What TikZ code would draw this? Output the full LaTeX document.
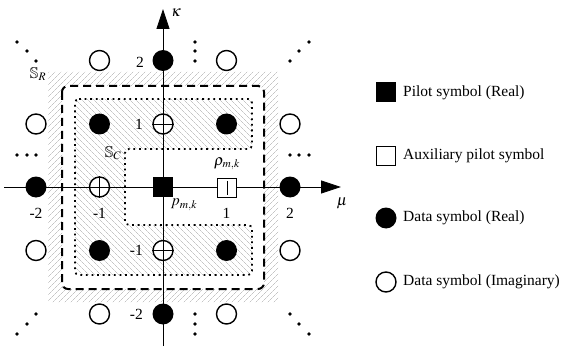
\documentclass[tikz,border=0pt]{standalone}
\usepackage{mathptmx}
\usepackage{amssymb}
\usepackage{fontspec}
\setmainfont{Liberation Serif}
\usetikzlibrary{arrows.meta,patterns.meta}
\tikzset{
  fdot/.style={circle,fill=black,minimum size=21pt,inner sep=0pt},
  odot/.style={circle,draw=black,fill=white,line width=1.4pt,minimum size=20pt,inner sep=0pt},
  fsq/.style={rectangle,fill=black,minimum size=20pt,inner sep=0pt},
  osq/.style={rectangle,draw=black,fill=white,line width=1.4pt,minimum size=19pt,inner sep=0pt},
  sdot/.style={circle,fill=black,minimum size=3.6pt,inner sep=0pt},
  axisline/.style={line width=0.8pt,-{Triangle[length=20pt,width=13pt]}},
  lab/.style={inner sep=0pt},
  legtext/.style={anchor=west,inner sep=0pt},
  hatchNE/.style={pattern={Lines[angle=45,distance=4pt,line width=0.45pt]},pattern color=gray!70},
  hatchNW/.style={pattern={Lines[angle=-45,distance=4pt,line width=0.45pt]},pattern color=gray!70},
}
\begin{document}
\begin{tikzpicture}[x=1pt,y=-1pt,font=\fontsize{15.5}{18}\selectfont]
\useasboundingbox (0,0) rectangle (565,350);
% hatched frame (S_R border)
\fill[hatchNE,even odd rule] (48,72) rectangle (278,302) [rounded corners=6pt] (62,86) rectangle (264,289);
% hatched C region (S_C)
\fill[hatchNW,rounded corners=4pt] (75,99) -- (252,99) -- (252,149) -- (125,149) -- (125,225) -- (252,225) -- (252,275) -- (75,275) -- cycle;
\draw[line width=2pt,dash pattern=on 8pt off 5pt,rounded corners=6pt] (62,86) rectangle (264,289);
\draw[line width=1.8pt,dash pattern=on 1.8pt off 3.8pt,rounded corners=4pt] (75,99) -- (252,99) -- (252,149) -- (125,149) -- (125,225) -- (252,225) -- (252,275) -- (75,275) -- cycle;
% axes
\coordinate (xs) at (4,187);
\coordinate (xe) at (341,187);
\coordinate (ys) at (163,346);
\coordinate (ye) at (163,9);
\draw[axisline] (xs) -- (xe);
\draw[axisline] (ys) -- (ye);
\node[lab] (kap) at (176,13) {$\kappa$};
\node[lab] (mu) at (342,203) {$\mu$};
% filled data symbols
\node[fdot] (d02) at (163,60.5) {};
\node[fdot] (d0m2) at (163,314) {};
\node[fdot] (dm20) at (36,187) {};
\node[fdot] (d20) at (290,187) {};
\node[fdot] (dm11) at (99.5,124) {};
\node[fdot] (d11) at (226.5,124) {};
\node[fdot] (dm1m1) at (99.5,250.5) {};
\node[fdot] (d1m1) at (226.5,250.5) {};
% open data symbols
\node[odot] (om12) at (99.5,60.5) {};
\node[odot] (o12) at (226.5,60.5) {};
\node[odot] (om21) at (36,124) {};
\node[odot] (o21) at (290,124) {};
\node[odot] (om2m1) at (36,250.5) {};
\node[odot] (o2m1) at (290,250.5) {};
\node[odot] (om1m2) at (99.5,314) {};
\node[odot] (o1m2) at (226.5,314) {};
% open symbols with cross
\node[odot] (p01) at (163,124) {};
\node[odot] (p0m1) at (163,250.5) {};
\node[odot] (pm10) at (99.5,187) {};
\foreach \n in {p01,p0m1,pm10}{
  \draw[line width=0.8pt] (\n.north) -- (\n.south);
  \draw[line width=0.8pt] (\n.west) -- (\n.east);
}
% pilots
\node[fsq] (pil) at (163,187) {};
\node[osq] (aux) at (227,188) {};
\draw[line width=0.8pt] ([yshift=-3pt]aux.north) -- ([yshift=3pt]aux.south);
% ellipsis dots
\foreach \x/\y [count=\i] in {17/42,27/51,36/61, 290/61,299/51,309/42, 36/314,27/324,17/334, 290/314,299/324,309/334, 195/42,195/51,195/61, 195/314,195/324,195/334, 17/155,27/155,36/155, 290/155,299/155,309/155}
  \node[sdot] (e\i) at (\x,\y) {};
% tick labels
\node[lab,anchor=east] (t2) at (144,62) {2};
\node[lab,anchor=east] (t1) at (143,124) {1};
\node[lab,anchor=east] (tm1) at (143,250.5) {-1};
\node[lab,anchor=east] (tm2) at (143,314) {-2};
\node[lab] (hm2) at (36,213) {-2};
\node[lab] (hm1) at (99.5,213) {-1};
\node[lab] (h1) at (226.5,213) {1};
\node[lab] (h2) at (290,213) {2};
% region and symbol labels
\node[lab] (sr) at (38,74) {$\mathbb{S}_R$};
\node[lab] (sc) at (113,153) {$\mathbb{S}_C$};
\node[lab] (pmk) at (184,205) {$p_{m,k}$};
\node[lab] (rmk) at (227,164) {$\rho_{m,k}$};
% legend
\node[fsq] (l1) at (386,92.5) {};
\node[legtext] (lt1) at (403,92.5) {Pilot symbol (Real)};
\node[osq] (l2) at (386,156) {};
\node[legtext] (lt2) at (403,156) {Auxiliary pilot symbol};
\node[fdot] (l3) at (386,218) {};
\node[legtext] (lt3) at (403,218) {Data symbol (Real)};
\node[odot] (l4) at (386,282) {};
\node[legtext] (lt4) at (403,282) {Data symbol (Imaginary)};
\end{tikzpicture}
\end{document}
